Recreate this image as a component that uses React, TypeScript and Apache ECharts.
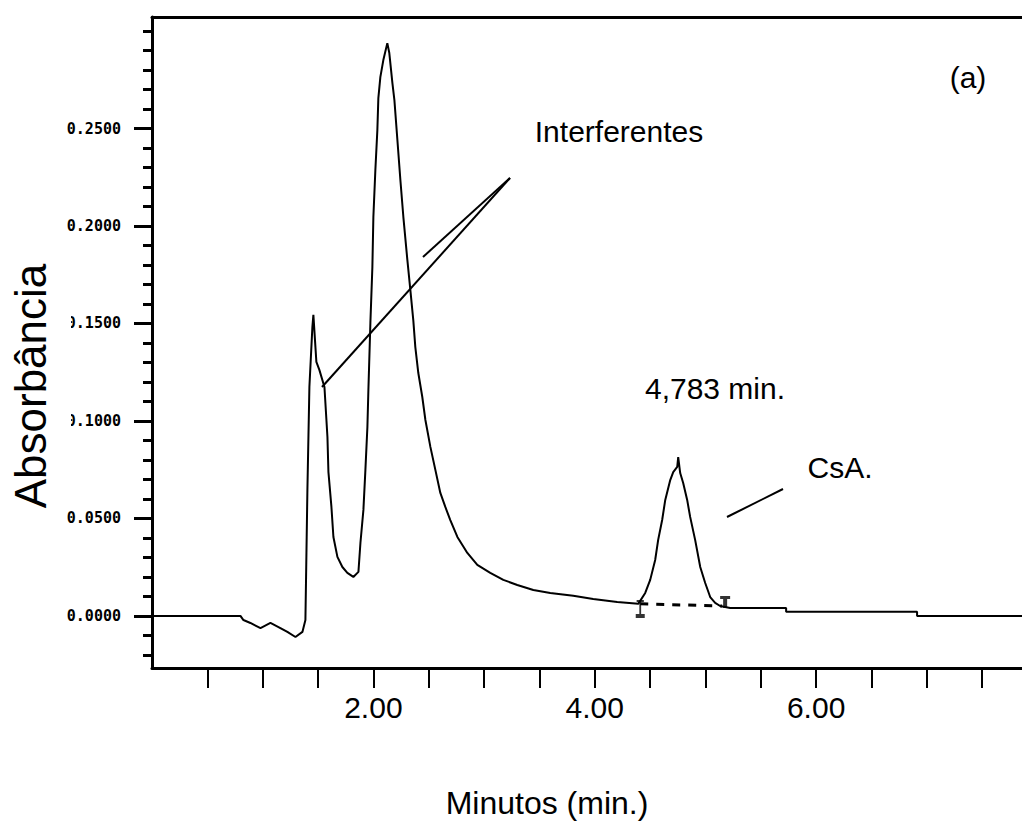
import React, { useEffect, useRef } from "react";
import * as echarts from "echarts";

// Chromatogram trace (time in minutes, absorbance)
const timeMin = [
  0, 0.799, 0.826, 0.889, 0.98, 1.07, 1.16, 1.223, 1.296, 1.359, 1.386, 1.404, 1.422, 1.449, 1.458,
  1.485, 1.512, 1.558, 1.585, 1.594, 1.621, 1.639, 1.675, 1.72, 1.765, 1.819, 1.865, 1.883, 1.91,
  1.928, 1.946, 1.955, 1.973, 1.991, 2.0, 2.018, 2.036, 2.045, 2.063, 2.09, 2.126, 2.144, 2.172, 2.19,
  2.217, 2.244, 2.271, 2.307, 2.334, 2.361, 2.379, 2.406, 2.442, 2.47, 2.515, 2.56, 2.605, 2.65, 2.695,
  2.759, 2.849, 2.939, 3.056, 3.174, 3.3, 3.445, 3.598, 3.806, 3.986, 4.203, 4.393, 4.456, 4.501,
  4.546, 4.573, 4.609, 4.637, 4.682, 4.709, 4.745, 4.754, 4.772, 4.799, 4.835, 4.862, 4.907, 4.953,
  4.998, 5.043, 5.088, 5.133, 5.223, 5.729, 5.729, 6.912, 6.912, 7.86,
];
const absorbance = [
  0, 0, -0.0021, -0.0036, -0.0062, -0.0036, -0.0062, -0.0082, -0.0108, -0.0082, -0.0021, 0.0646,
  0.1174, 0.1482, 0.1544, 0.1303, 0.1262, 0.1174, 0.0918, 0.0738, 0.0559, 0.0405, 0.0303, 0.0251,
  0.0221, 0.02, 0.0226, 0.0374, 0.0544, 0.0749, 0.0969, 0.1159, 0.1503, 0.179, 0.2046, 0.2287,
  0.2492, 0.2656, 0.2764, 0.2851, 0.2938, 0.2887, 0.2733, 0.2646, 0.2441, 0.2236, 0.2046, 0.1826,
  0.1672, 0.1515, 0.1379, 0.1246, 0.1123, 0.1005, 0.0867, 0.0749, 0.0631, 0.0559, 0.0492, 0.0405,
  0.0323, 0.0262, 0.0221, 0.0185, 0.0159, 0.0133, 0.0118, 0.0103, 0.0087, 0.0072, 0.0062, 0.0118,
  0.0185, 0.0287, 0.039, 0.0492, 0.0595, 0.0697, 0.0738, 0.0764, 0.0815, 0.0733, 0.0682, 0.0595,
  0.0508, 0.039, 0.0251, 0.0169, 0.0097, 0.0067, 0.0051, 0.0041, 0.0041, 0.0021, 0.0021, 0, 0,
];

// Integration baseline of the CsA peak
const baselineTime = [4.411, 5.151];
const baselineAbs = [0.0062, 0.0051];
// Integration start / end markers
const markerStart = [4.411, 0.0036];
const markerEnd = [5.178, 0.0072];

// Axis ticks
const yMinorTicks = [-0.02, -0.01, 0, 0.01, 0.02, 0.03, 0.04, 0.05, 0.06, 0.07, 0.08, 0.09, 0.1, 0.11, 0.12, 0.13, 0.14, 0.15, 0.16, 0.17, 0.18, 0.19, 0.2, 0.21, 0.22, 0.23, 0.24, 0.25, 0.26, 0.27, 0.28, 0.29, 0.3];
const yMajorTicks = [0, 0.05, 0.1, 0.15, 0.2, 0.25];
const xTicks = [0.5, 1, 1.5, 2, 2.5, 3, 3.5, 4, 4.5, 5, 5.5, 6, 6.5, 7, 7.5];
const xLabels = [2, 4, 6];

const X_MIN = 0;
const X_MAX = 7.86;
const Y_MIN = -0.0267;
const Y_MAX = 0.3072;

const ARIAL = '"Liberation Sans", Arial, sans-serif';

export default function App() {
  const ref = useRef<HTMLDivElement>(null);

  useEffect(() => {
    if (!ref.current) return;
    const chart = echarts.init(ref.current, null, { renderer: "svg" });
    const trace = timeMin.map((t, i) => [t, absorbance[i]]);
    const baseline = baselineTime.map((t, i) => [t, baselineAbs[i]]);

    chart.setOption({
      animation: false,
      backgroundColor: "#ffffff",
      grid: { left: 152, right: 0, top: 17, bottom: 153, containLabel: false },
      xAxis: [
        {
          type: "value",
          min: X_MIN,
          max: X_MAX,
          position: "bottom",
          axisLine: { show: true, onZero: false, lineStyle: { color: "#000", width: 3 } },
          axisTick: { show: true, inside: false, length: 20, lineStyle: { color: "#000", width: 2 }, customValues: xTicks },
          axisLabel: {
            show: true,
            customValues: xLabels,
            formatter: (v: number) => v.toFixed(2),
            color: "#000",
            fontFamily: ARIAL,
            fontSize: 30,
            margin: 24,
          },
          splitLine: { show: false },
        },
        {
          type: "value",
          min: X_MIN,
          max: X_MAX,
          position: "top",
          axisLine: { show: true, onZero: false, lineStyle: { color: "#000", width: 3 } },
          axisTick: { show: false },
          axisLabel: { show: false },
          splitLine: { show: false },
        },
      ],
      yAxis: [
        {
          type: "value",
          min: Y_MIN,
          max: Y_MAX,
          position: "left",
          axisLine: { show: true, onZero: false, lineStyle: { color: "#000", width: 3 } },
          axisTick: { show: true, length: 9, lineStyle: { color: "#000", width: 3 }, customValues: yMinorTicks },
          axisLabel: { show: false },
          splitLine: { show: false },
        },
        {
          type: "value",
          min: Y_MIN,
          max: Y_MAX,
          position: "left",
          axisLine: { show: false, onZero: false },
          axisTick: { show: true, length: 18, lineStyle: { color: "#000", width: 3 }, customValues: yMajorTicks },
          axisLabel: {
            show: true,
            customValues: yMajorTicks,
            formatter: (v: number) => v.toFixed(4),
            color: "#000",
            fontFamily: '"DejaVu Sans Mono", monospace',
            fontWeight: "bold",
            fontSize: 15,
            margin: 31,
          },
          splitLine: { show: false },
        },
      ],
      series: [
        {
          type: "line",
          data: trace,
          xAxisIndex: 0,
          yAxisIndex: 0,
          showSymbol: false,
          symbol: "none",
          lineStyle: { color: "#000", width: 2 },
          z: 5,
        },
        {
          type: "line",
          data: baseline,
          xAxisIndex: 0,
          yAxisIndex: 0,
          symbol: "none",
          lineStyle: { color: "#000", width: 3, type: [8, 8] },
          z: 4,
        },
        {
          type: "scatter",
          data: [markerStart],
          xAxisIndex: 0,
          yAxisIndex: 0,
          symbol: "path://M0,0H8V2H5V14H9V18H-1V14H3V2H0Z",
          symbolSize: [9, 18],
          itemStyle: { color: "#000" },
          z: 6,
        },
        {
          type: "scatter",
          data: [markerEnd],
          xAxisIndex: 0,
          yAxisIndex: 0,
          symbol: "path://M0,0H10V3H7V12H3V3H0Z",
          symbolSize: [10, 12],
          itemStyle: { color: "#000" },
          z: 6,
        },
      ],
      graphic: [
        // partially hidden leading zeros of two tick labels
        { type: "rect", shape: { x: 60, y: 312, width: 11, height: 22 }, style: { fill: "#fff" }, z: 100 },
        { type: "rect", shape: { x: 60, y: 410, width: 11, height: 22 }, style: { fill: "#fff" }, z: 100 },
        // white box clipping x labels bottom
        { type: "rect", shape: { x: 320, y: 718, width: 580, height: 20 }, style: { fill: "#fff" }, z: 100 },
        {
          type: "text",
          x: 30,
          y: 386,
          rotation: Math.PI / 2,
          style: { text: "Absorbância", font: `44px ${ARIAL}`, fill: "#000", textAlign: "center", textVerticalAlign: "middle" },
          z: 100,
        },
        {
          type: "text",
          x: 547,
          y: 803,
          style: { text: "Minutos (min.)", font: `32px ${ARIAL}`, fill: "#000", textAlign: "center", textVerticalAlign: "middle" },
          z: 100,
        },
        {
          type: "text",
          x: 968,
          y: 77,
          style: { text: "(a)", font: `30px ${ARIAL}`, fill: "#000", textAlign: "center", textVerticalAlign: "middle" },
          z: 100,
        },
        {
          type: "text",
          x: 619,
          y: 131,
          style: { text: "Interferentes", font: `30px ${ARIAL}`, fill: "#000", textAlign: "center", textVerticalAlign: "middle" },
          z: 100,
        },
        {
          type: "text",
          x: 715,
          y: 388,
          style: { text: "4,783 min.", font: `30px ${ARIAL}`, fill: "#000", textAlign: "center", textVerticalAlign: "middle" },
          z: 100,
        },
        {
          type: "text",
          x: 840,
          y: 467,
          style: { text: "CsA.", font: `30px ${ARIAL}`, fill: "#000", textAlign: "center", textVerticalAlign: "middle" },
          z: 100,
        },
        { type: "line", shape: { x1: 510, y1: 178, x2: 423, y2: 257 }, style: { stroke: "#000", lineWidth: 2 }, z: 100 },
        { type: "line", shape: { x1: 510, y1: 178, x2: 322, y2: 387 }, style: { stroke: "#000", lineWidth: 2 }, z: 100 },
        { type: "line", shape: { x1: 783, y1: 489, x2: 727, y2: 517 }, style: { stroke: "#000", lineWidth: 2 }, z: 100 },
      ],
    });
    return () => chart.dispose();
  }, []);

  return (
    <div style={{ position: "fixed", left: 0, top: 0, width: 1022, height: 821, overflow: "hidden", background: "#fff" }}>
      <div ref={ref} style={{ width: 1022, height: 821 }} />
    </div>
  );
}
